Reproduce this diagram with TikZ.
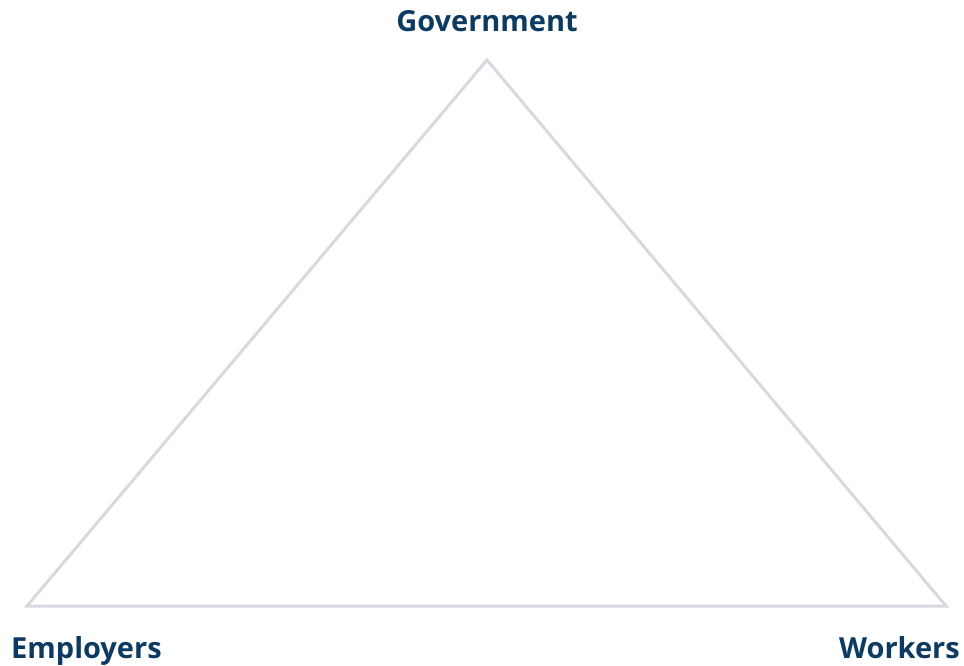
\documentclass[tikz,border=0pt]{standalone}
\usepackage{fontspec}
\setmainfont{Open Sans}
\definecolor{labelblue}{RGB}{12,58,96}
\definecolor{edgegray}{RGB}{214,218,224}
\begin{document}
\begin{tikzpicture}[x=1pt,y=-1pt,
  lbl/.style={font=\bfseries\fontsize{29}{33}\selectfont, text=labelblue, inner sep=0pt},
  edge/.style={draw=edgegray, line width=3pt, line join=miter}]
\useasboundingbox (0,0) rectangle (964,666);
\coordinate (top) at (487,60);
\coordinate (bl) at (27,606);
\coordinate (br) at (946,606);
\draw[edge] (top) -- (bl) -- (br) -- cycle;
\node[lbl, anchor=base] (gov) at (487,32) {Government};
\node[lbl, anchor=base west] (emp) at (11,658) {Employers};
\node[lbl, anchor=base east] (wor) at (960,658) {Workers};
\end{tikzpicture}
\end{document}
